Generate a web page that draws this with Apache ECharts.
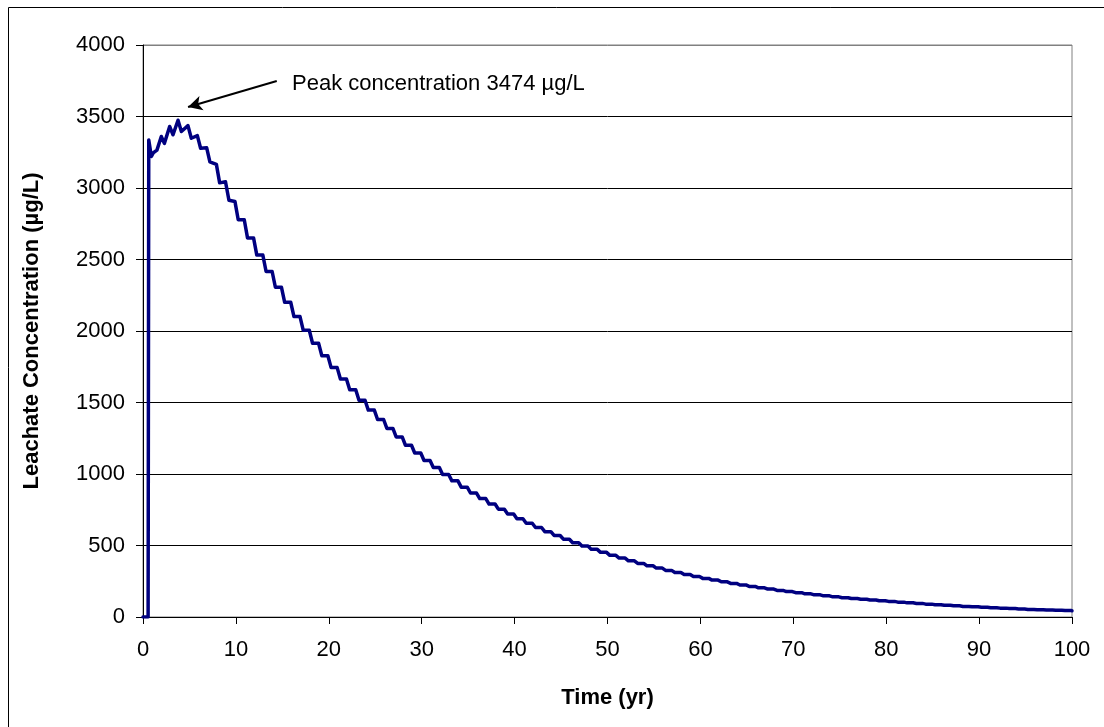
<!DOCTYPE html>
<html>
<head>
<meta charset="utf-8">
<script src="https://cdn.jsdelivr.net/npm/echarts@6/dist/echarts.min.js"></script>
<style>
html,body{margin:0;padding:0;background:#fff;}
#chart{width:1104px;height:727px;}
</style>
</head>
<body>
<div id="chart"></div>
<script>
// ---- data ----
const xTicks = [0, 10, 20, 30, 40, 50, 60, 70, 80, 90, 100];
const yTicks = [0, 500, 1000, 1500, 2000, 2500, 3000, 3500, 4000];

const years = [
  0, 0.55, 0.62, 0.9, 1.1, 1.5, 1.97, 2.3, 2.87, 3.23, 3.77, 4.13, 4.84, 5.2, 5.85,
  6.2, 6.85, 7.2, 7.9, 8.25, 8.88, 9.25, 9.9,
  10.25, 10.9, 11.25, 11.9, 12.25, 12.9, 13.25, 13.9, 14.25, 14.9,
  15.25, 15.9, 16.25, 16.9, 17.25, 17.9, 18.25, 18.9, 19.25, 19.9,
  20.25, 20.9, 21.25, 21.9, 22.25, 22.9, 23.25, 23.9, 24.25, 24.9,
  25.25, 25.9, 26.25, 26.9, 27.25, 27.9, 28.25, 28.9, 29.25, 29.9,
  30.25, 30.9, 31.25, 31.9, 32.25, 32.9, 33.25, 33.9, 34.25, 34.9,
  35.25, 35.9, 36.25, 36.9, 37.25, 37.9, 38.25, 38.9, 39.25, 39.9,
  40.25, 40.9, 41.25, 41.9, 42.25, 42.9, 43.25, 43.9, 44.25, 44.9,
  45.25, 45.9, 46.25, 46.9, 47.25, 47.9, 48.25, 48.9, 49.25, 49.9,
  50.25, 50.9, 51.25, 51.9, 52.25, 52.9, 53.25, 53.9, 54.25, 54.9,
  55.25, 55.9, 56.25, 56.9, 57.25, 57.9, 58.25, 58.9, 59.25, 59.9,
  60.25, 60.9, 61.25, 61.9, 62.25, 62.9, 63.25, 63.9, 64.25, 64.9,
  65.25, 65.9, 66.25, 66.9, 67.25, 67.9, 68.25, 68.9, 69.25, 69.9,
  70.25, 70.9, 71.25, 71.9, 72.25, 72.9, 73.25, 73.9, 74.25, 74.9,
  75.25, 75.9, 76.25, 76.9, 77.25, 77.9, 78.25, 78.9, 79.25, 79.9,
  80.25, 80.9, 81.25, 81.9, 82.25, 82.9, 83.25, 83.9, 84.25, 84.9,
  85.25, 85.9, 86.25, 86.9, 87.25, 87.9, 88.25, 88.9, 89.25, 89.9,
  90.25, 90.9, 91.25, 91.9, 92.25, 92.9, 93.25, 93.9, 94.25, 94.9,
  95.25, 95.9, 96.25, 96.9, 97.25, 97.9, 98.25, 98.9, 99.25, 99.9,
  100
];

const concentration = [
  0, 0, 3336, 3220, 3245, 3265, 3360, 3312, 3430, 3372, 3474, 3395, 3436, 3348, 3366,
  3278, 3282, 3182, 3165, 3036, 3044, 2914, 2905,
  2778, 2778, 2651, 2651, 2531, 2531, 2416, 2416, 2306, 2306,
  2201, 2201, 2101, 2101, 2005, 2005, 1914, 1914, 1827, 1827,
  1744, 1744, 1664, 1664, 1589, 1589, 1516, 1516, 1447, 1447,
  1381, 1381, 1319, 1319, 1259, 1259, 1201, 1201, 1147, 1147,
  1094, 1094, 1045, 1045, 997, 997, 952, 952, 908, 908,
  867, 867, 828, 828, 790, 790, 754, 754, 720, 720,
  687, 687, 656, 656, 626, 626, 597, 597, 570, 570,
  544, 544, 519, 519, 496, 496, 473, 473, 452, 452,
  431, 431, 412, 412, 393, 393, 375, 375, 358, 358,
  342, 342, 326, 326, 311, 311, 297, 297, 283, 283,
  270, 270, 258, 258, 246, 246, 235, 235, 224, 224,
  214, 214, 204, 204, 195, 195, 186, 186, 178, 178,
  170, 170, 162, 162, 155, 155, 148, 148, 141, 141,
  135, 135, 129, 129, 124, 124, 119, 119, 114, 114,
  109, 109, 104, 104, 99, 99, 95, 95, 90, 90,
  86, 86, 82, 82, 78, 78, 74, 74, 71, 71,
  68, 68, 65, 65, 62, 62, 59, 59, 56, 56,
  53, 53, 51, 51, 49, 49, 47, 47, 45, 45,
  44
];

const peakValue = 3474;
const arrowFrom = [14.4, 3748];
const arrowTo = [4.85, 3566];

const seriesData = years.map((y, i) => [y, concentration[i]]);

const FONT = '"Liberation Sans", Arial, sans-serif';
const chart = echarts.init(document.getElementById('chart'), null, {renderer: 'canvas'});

const gridColors = yTicks.map((v, i) => i === yTicks.length - 1 ? '#808080' : '#000000');

chart.setOption({
  animation: false,
  backgroundColor: '#ffffff',
  grid: {
    left: 143, right: 32, top: 45, bottom: 110,
    show: true, borderColor: '#808080', borderWidth: 1, backgroundColor: 'transparent'
  },
  xAxis: {
    type: 'value', min: xTicks[0], max: xTicks[xTicks.length - 1], interval: 10,
    name: 'Time (yr)', nameLocation: 'middle', nameGap: 70,
    nameTextStyle: {fontFamily: FONT, fontSize: 22, fontWeight: 'bold', color: '#000'},
    axisLine: {show: true, lineStyle: {color: '#000', width: 1}},
    axisTick: {show: true, inside: false, length: 7, lineStyle: {color: '#000'}},
    axisLabel: {fontFamily: FONT, fontSize: 22, color: '#000', margin: 22,
      formatter: v => String(v)},
    splitLine: {show: false}
  },
  yAxis: {
    type: 'value', min: yTicks[0], max: yTicks[yTicks.length - 1], interval: 500,
    name: 'Leachate Concentration (µg/L)', nameLocation: 'middle', nameGap: 100,
    nameTextStyle: {fontFamily: FONT, fontSize: 22, fontWeight: 'bold', color: '#000'},
    axisLine: {show: true, lineStyle: {color: '#000', width: 1}},
    axisTick: {show: true, inside: false, length: 7, lineStyle: {color: '#000'}},
    axisLabel: {fontFamily: FONT, fontSize: 22, color: '#000', margin: 18,
      formatter: v => String(v)},
    splitLine: {show: true, lineStyle: {color: gridColors, width: 1}}
  },
  series: [{
    type: 'line',
    name: 'Leachate concentration',
    data: seriesData,
    showSymbol: false,
    symbol: 'none',
    smooth: false,
    lineStyle: {color: '#000080', width: 3.5, join: 'round', cap: 'round'},
    itemStyle: {color: '#000080'},
    markLine: {
      silent: true,
      symbol: ['none', 'arrow'],
      symbolSize: [11, 14],
      lineStyle: {color: '#000', width: 2, type: 'solid'},
      label: {show: false},
      data: [[{coord: arrowFrom}, {coord: arrowTo}]]
    }
  }],
  graphic: [
    {
      type: 'rect', silent: true, z: 100,
      shape: {x: 8.5, y: 7.5, width: 1300, height: 1000},
      style: {fill: 'none', stroke: '#000', lineWidth: 1}
    },
    {
      type: 'text', silent: true, left: 292, top: 73,
      style: {text: 'Peak concentration ' + peakValue + ' µg/L', font: '22px ' + FONT, fill: '#000'}
    }
  ]
});
</script>
</body>
</html>
